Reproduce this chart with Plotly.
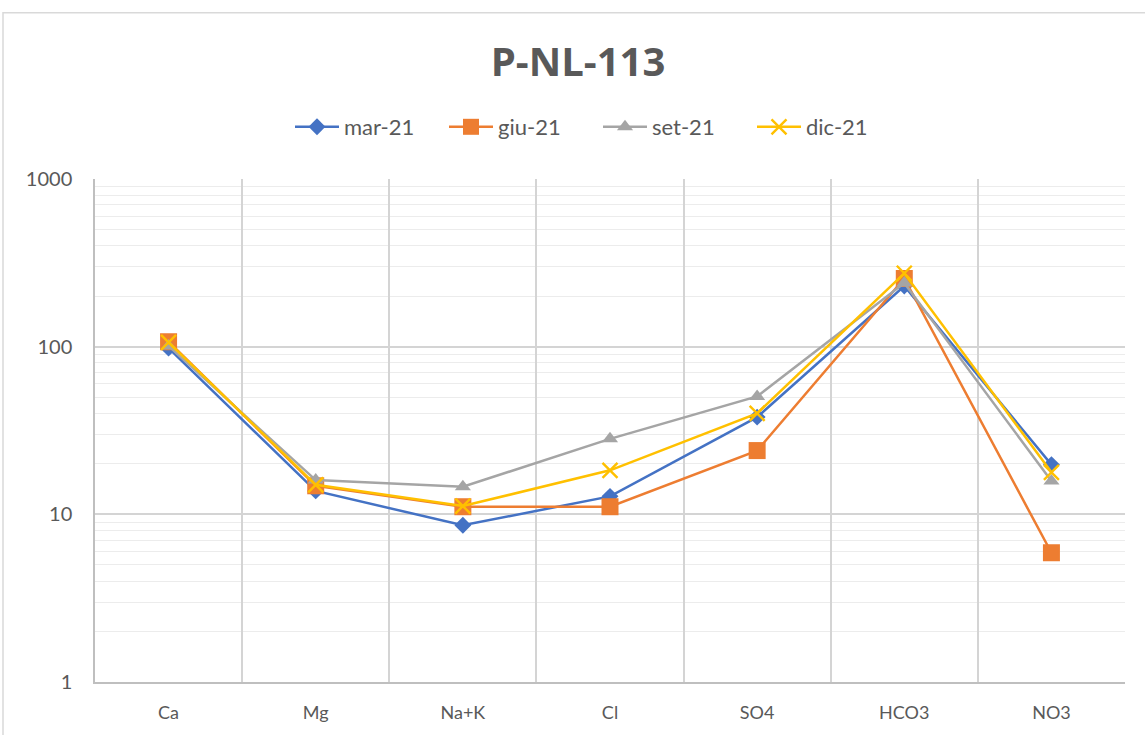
import plotly.graph_objects as go

categories = ["Ca", "Mg", "Na+K", "Cl", "SO4", "HCO3", "NO3"]
mar_21 = [98, 13.8, 8.6, 12.8, 38, 230, 19.8]
giu_21 = [107, 14.8, 11.1, 11.1, 24, 255, 5.9]
set_21 = [101, 16.0, 14.6, 28.2, 50.5, 240, 15.8]
dic_21 = [106, 15.0, 11.2, 18.3, 40, 274, 17.8]
series_names = ["mar-21", "giu-21", "set-21", "dic-21"]
tick_vals = [1, 10, 100, 1000]
tick_text = ["1", "10", "100", "1000"]

colors = ["#4472C4", "#ED7D31", "#A5A5A5", "#FFC000"]
symbols = ["diamond", "square", "triangle-up", "x-thin-open"]
sizes = [13, 17, 14, 15]

fig = go.Figure()
for name, vals, c, s, sz in zip(series_names, [mar_21, giu_21, set_21, dic_21], colors, symbols, sizes):
    marker = dict(color=c, symbol=s, size=sz)
    if s == "x-thin-open":
        marker["line"] = dict(color=c, width=2.4)
    else:
        marker["line"] = dict(width=0)
    fig.add_trace(go.Scatter(
        x=categories, y=vals, name=name, mode="lines+markers",
        line=dict(color=c, width=2.5), marker=marker,
    ))

W, H = 1145, 735
L, R, T, B = 95, 20, 179, 51
pw, ph = W - L - R, H - T - B

fig.update_layout(
    width=W, height=H,
    margin=dict(l=L, r=R, t=T, b=B),
    paper_bgcolor="white", plot_bgcolor="white",
    font=dict(family="Lato", color="#595959"),
    title=dict(text="<b>P-NL-113</b>", x=578 / W, xanchor="center", y=1 - 62 / H, yanchor="middle",
               font=dict(size=40, color="#595959", family="Open Sans")),
    legend=dict(orientation="h", xref="container", x=598 / W, xanchor="center",
                yref="container", y=1 - 127 / H, yanchor="middle",
                font=dict(size=22, color="#595959"), itemwidth=44, entrywidth=95,
                bgcolor="rgba(0,0,0,0)"),
    showlegend=True,
    xaxis=dict(type="category", tickson="boundaries", showgrid=True, gridcolor="#d4d4d4", gridwidth=1.5,
               showline=True, linecolor="#bfbfbf", linewidth=1.5, ticks="", range=[-0.5, 6.5],
               tickfont=dict(size=18, color="#595959"), ticklabelstandoff=14, zeroline=False),
    yaxis=dict(type="log", range=[0, 3], tickvals=tick_vals, ticktext=tick_text,
               showgrid=True, gridcolor="#d4d4d4", gridwidth=1.5,
               showline=True, linecolor="#bfbfbf", linewidth=1.5, ticks="",
               tickfont=dict(size=20, color="#595959"), ticklabelstandoff=17,
               minor=dict(showgrid=True, dtick="D1", gridcolor="#ececec", gridwidth=1.3, ticks=""),
               zeroline=False),
)

# outer chart border
fig.add_shape(type="rect", xref="paper", yref="paper",
              x0=(3 - L) / pw, x1=(W + 20 - L) / pw,
              y0=-(B + 20) / ph, y1=(H - B - 12) / ph,
              line=dict(color="#d9d9d9", width=1.5), fillcolor="rgba(0,0,0,0)", layer="below")

fig.write_html("out.html", config={"displayModeBar": False},
               post_script="document.body.style.margin='0';document.body.style.padding='0';")
